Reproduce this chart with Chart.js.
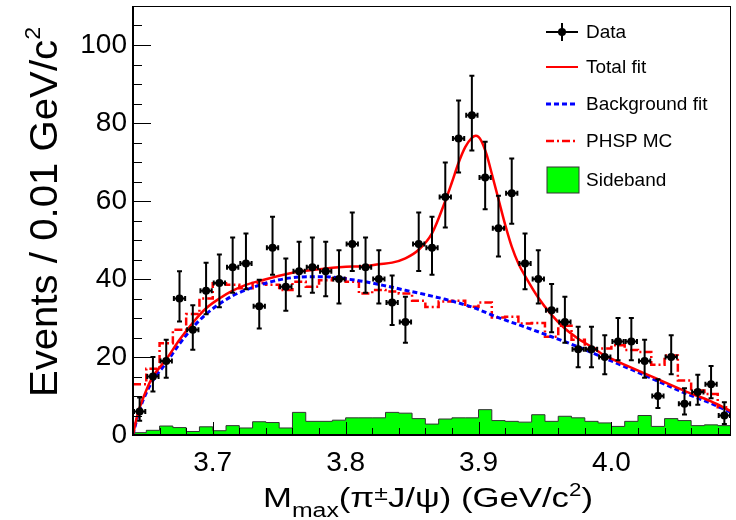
<!DOCTYPE html>
<html>
<head>
<meta charset="utf-8">
<script src="https://cdn.jsdelivr.net/npm/chart.js@4.4.1/dist/chart.umd.min.js"></script>
<style>
html,body{margin:0;padding:0;background:#fff;}
#wrap{position:relative;width:736px;height:520px;overflow:hidden;font-family:'Liberation Sans',Arial,Helvetica,sans-serif;color:#000;}
#c{position:absolute;left:0;top:0;}
.lg{position:absolute;left:586px;font-size:19px;line-height:20px;white-space:nowrap;}
#xt{position:absolute;left:263px;top:484px;font-size:28px;line-height:28px;white-space:nowrap;transform-origin:0 50%;}
#yt{position:absolute;left:44px;top:212px;font-size:38px;line-height:38px;white-space:nowrap;transform:translate(-50%,-50%) rotate(-90deg);}
.sub{font-size:20px;position:relative;top:10px;line-height:0;}
.supx{font-size:20px;position:relative;top:-7px;line-height:0;}
.sup2{font-size:18px;position:relative;top:-11px;line-height:0;}
.supy{font-size:22px;position:relative;top:-17px;line-height:0;}
#sym{position:absolute;left:0;top:0;pointer-events:none;}
</style>
</head>
<body>
<div id="wrap">
<canvas id="c" width="736" height="520"></canvas>
<svg id="sym" width="736" height="520">
  <line x1="546" y1="32" x2="578" y2="32" stroke="#000" stroke-width="2"/>
  <line x1="562" y1="23" x2="562" y2="41" stroke="#000" stroke-width="2"/>
  <circle cx="562" cy="32" r="4" fill="#000"/>
  <line x1="546" y1="67" x2="578" y2="67" stroke="#ff0000" stroke-width="2"/>
  <line x1="546" y1="104" x2="578" y2="104" stroke="#0000ff" stroke-width="3" stroke-dasharray="5,3"/>
  <line x1="546" y1="141" x2="578" y2="141" stroke="#ff0000" stroke-width="2.5" stroke-dasharray="8,3,2,3"/>
  <rect x="547" y="167" width="32" height="26" fill="#00ff00" stroke="#333" stroke-width="1"/>
</svg>
<div class="lg" style="top:22px">Data</div>
<div class="lg" style="top:57px">Total fit</div>
<div class="lg" style="top:94px">Background fit</div>
<div class="lg" style="top:131px">PHSP MC</div>
<div class="lg" style="top:170px">Sideband</div>
<div id="xt">M<span class="sub">max</span>(π<span class="supx">±</span>J/ψ) (GeV/c<span class="sup2">2</span>)</div>
<div id="yt">Events / 0.01 GeV/c<span class="supy">2</span></div>
</div>
<script>
// ---- binning / axes ----
const massMin = 3.64;
const massMax = 4.09;
const binWidth = 0.01;
const xTickVals = [3.7, 3.8, 3.9, 4.0];
const yTickVals = [0, 20, 40, 60, 80, 100];
const yMax = 110;

// ---- data: events per bin (45 bins, 3.64 - 4.09) ----
const counts = [6,15,19,35,27,37,39,43,44,33,48,38,42,43,42,40,49,43,40,34,29,49,48,61,76,82,66,53,62,44,40,32,29,22,22,20,24,24,19,10,20,8,11,13,5];

// ---- sideband histogram ----
const sideband = [0.6,1.2,2.3,1.9,0.9,2.1,1.1,2.4,1.8,3.4,3.2,1.8,5.8,3.5,3.5,3.8,4.4,4.4,4.4,5.8,5.6,4.2,2.8,4.1,4.4,4.4,6.5,3.7,3.5,3.3,5.2,3.5,4.8,4.4,3.5,3.1,2.2,3.5,5.0,2.2,4.2,3.7,2.4,2.6,2.4];

// ---- PHSP MC histogram ----
const phsp = [13,17,23.5,27,31,35,38.9,38.5,37.6,39,38.5,37.2,39.3,38,39.7,40.2,39.3,36.3,37.2,36.8,36.3,34.4,32.8,34.2,34.4,32.9,34,30.1,30.3,28.6,28.7,25.2,28,24.4,22.2,22.2,23,21.8,21.3,18,20.4,14,11.4,10.5,7.1];

// ---- total fit curve ----
const totalMass = [3.640,3.6425,3.645,3.650,3.655,3.665,3.675,3.685,3.695,3.705,3.715,3.725,3.735,3.745,3.755,3.765,3.775,3.785,3.795,3.805,3.815,3.825,3.835,3.845,3.855,3.865,3.875,3.880,3.885,3.890,3.895,3.898,3.902,3.906,3.910,3.915,3.920,3.925,3.930,3.935,3.945,3.955,3.965,3.975,3.985,3.995,4.015,4.035,4.055,4.075,4.090];
const totalFit  = [0,4,7,11.5,15,19.4,24.4,28.8,32.5,35,37,38.5,39.5,40.4,41.2,41.9,42.3,42.7,43,43.2,43.3,43.8,44.2,45.3,47.5,51.7,60,64.8,69.8,73.8,76.2,76.7,75.5,72,67,60.5,54,48.3,44,40.8,35.2,30.8,27.3,24.7,22.6,20.4,17.3,14.3,11.3,8.6,6.1];

// ---- background fit curve ----
const bkgMass = [3.640,3.6425,3.645,3.650,3.655,3.665,3.675,3.685,3.695,3.705,3.715,3.725,3.735,3.745,3.755,3.765,3.775,3.785,3.795,3.805,3.815,3.825,3.835,3.845,3.855,3.865,3.875,3.895,3.915,3.935,3.955,3.975,3.995,4.015,4.035,4.055,4.075,4.090];
const bkgFit  = [0,3.5,6.5,10.8,14,18.5,23.4,27.6,31,33.6,35.7,37.2,38.4,39.4,40.1,40.5,40.6,40.6,40.3,39.8,39.3,38.6,37.9,37.1,36.4,35.6,34.8,32.8,30.1,27.7,25.2,22.6,19.7,16.8,13.8,10.8,8.1,5.8];

// ---- helpers building library data ----
const binCenter = i => massMin + (i + 0.5) * binWidth;
const binLow = i => massMin + i * binWidth;
function histPoints(vals){
  const pts = vals.map((v,i)=>({x: binLow(i), y: v}));
  pts.push({x: binLow(vals.length), y: vals[vals.length-1]});
  return pts;
}
const curve = (xs, ys) => xs.map((x,i)=>({x, y: ys[i]}));
// Poisson (Gehrels) errors
const errUp = n => Math.sqrt(n + 0.75) + 1;
const errLo = n => n - n * Math.pow(1 - 1/(9*n) - 1/(3*Math.sqrt(n)), 3);

const FONT = "'Liberation Sans', Arial, Helvetica, sans-serif";

const errPlugin = {
  id: 'errbars',
  afterDatasetsDraw(chart){
    const {ctx, scales:{x, y}, chartArea:a} = chart;
    ctx.save();
    ctx.beginPath(); ctx.rect(a.left, a.top, a.right-a.left, a.bottom-a.top); ctx.clip();
    ctx.strokeStyle = '#000'; ctx.lineWidth = 2;
    counts.forEach((n,i)=>{
      const xc = binCenter(i);
      const px = x.getPixelForValue(xc);
      const py = y.getPixelForValue(n);
      const pu = y.getPixelForValue(n + errUp(n));
      const pl = y.getPixelForValue(n - errLo(n));
      const xl = x.getPixelForValue(xc - binWidth/2) + 1;
      const xr = x.getPixelForValue(xc + binWidth/2) - 1;
      ctx.beginPath();
      ctx.moveTo(px, pu); ctx.lineTo(px, pl);
      ctx.moveTo(px-2.5, pu); ctx.lineTo(px+2.5, pu);
      ctx.moveTo(px-2.5, pl); ctx.lineTo(px+2.5, pl);
      ctx.moveTo(xl, py); ctx.lineTo(xr, py);
      ctx.moveTo(xl, py-2.5); ctx.lineTo(xl, py+2.5);
      ctx.moveTo(xr, py-2.5); ctx.lineTo(xr, py+2.5);
      ctx.stroke();
    });
    ctx.restore();
  }
};

const framePlugin = {
  id: 'frame',
  afterDraw(chart){
    const {ctx, scales:{x, y}, chartArea:a} = chart;
    ctx.save();
    ctx.strokeStyle = '#000';
    ctx.lineWidth = 1;
    ctx.beginPath();
    for (let v = 0; v <= yMax + 1e-9; v += 5){
      const py = Math.round(y.getPixelForValue(v)) + 0.5;
      const len = (v % 20 === 0) ? 18 : 9;
      ctx.moveTo(a.left, py); ctx.lineTo(a.left + len, py);
    }
    for (let k = 0; ; k++){
      const v = 3.66 + 0.02*k;
      if (v > massMax - 1e-9) break;
      const px = Math.round(x.getPixelForValue(v)) + 0.5;
      const major = Math.abs(v*10 - Math.round(v*10)) < 1e-6;
      const len = major ? 13 : 7;
      ctx.moveTo(px, a.bottom); ctx.lineTo(px, a.bottom - len);
    }
    ctx.stroke();
    // frame
    ctx.beginPath();
    ctx.moveTo(a.left, a.top + 0.5); ctx.lineTo(a.right, a.top + 0.5);
    ctx.moveTo(a.right - 0.5, a.top); ctx.lineTo(a.right - 0.5, a.bottom);
    ctx.stroke();
    ctx.lineWidth = 2;
    ctx.beginPath();
    ctx.moveTo(a.left, a.top); ctx.lineTo(a.left, a.bottom + 1);
    ctx.moveTo(a.left - 1, a.bottom); ctx.lineTo(a.right, a.bottom);
    ctx.stroke();
    ctx.restore();
  }
};

new Chart(document.getElementById('c'), {
  type: 'line',
  data: {
    datasets: [
      { label: 'Data', type: 'scatter', data: counts.map((n,i)=>({x: binCenter(i), y: n})),
        pointRadius: 4, pointHoverRadius: 4, pointBackgroundColor: '#000', pointBorderWidth: 0, showLine: false, order: 0 },
      { label: 'Total fit', data: curve(totalMass, totalFit), borderColor: '#ff0000', borderWidth: 2.5,
        pointRadius: 0, cubicInterpolationMode: 'monotone', fill: false, order: 1 },
      { label: 'Background fit', data: curve(bkgMass, bkgFit), borderColor: '#0000ff', borderWidth: 3, borderDash: [5,3],
        pointRadius: 0, cubicInterpolationMode: 'monotone', fill: false, order: 2 },
      { label: 'PHSP MC', data: histPoints(phsp), borderColor: '#ff0000', borderWidth: 2.5, borderDash: [8,3,2,3],
        pointRadius: 0, stepped: 'before', fill: false, order: 3 },
      { label: 'Sideband', data: histPoints(sideband), borderColor: '#333333', borderWidth: 1, backgroundColor: '#00ff00',
        pointRadius: 0, stepped: 'before', fill: 'origin', order: 4 }
    ]
  },
  options: {
    responsive: false,
    animation: false,
    events: [],
    layout: { padding: { top: 6, right: 5, left: 0, bottom: 0 } },
    plugins: { legend: { display: false }, tooltip: { enabled: false } },
    scales: {
      x: {
        type: 'linear', min: massMin, max: massMax,
        grid: { display: false, drawTicks: false }, border: { display: false },
        afterBuildTicks: s => { s.ticks = xTickVals.map(v=>({value: v})); },
        afterFit: s => { s.height = 85; s.paddingLeft = 0; s.paddingRight = 0; },
        ticks: { autoSkip: false, maxRotation: 0, padding: 11, color: '#000',
          font: { family: FONT, size: 28 }, callback: v => Number(v).toFixed(1) }
      },
      y: {
        type: 'linear', min: 0, max: yMax,
        grid: { display: false, drawTicks: false }, border: { display: false },
        afterBuildTicks: s => { s.ticks = yTickVals.map(v=>({value: v})); },
        afterFit: s => { s.width = 133; s.paddingTop = 0; s.paddingBottom = 0; },
        ticks: { padding: 6, color: '#000', font: { family: FONT, size: 28 }, callback: v => String(v) }
      }
    }
  },
  plugins: [errPlugin, framePlugin]
});

// fit axis titles to measured extents
(function(){
  const xt = document.getElementById('xt');
  const w = xt.getBoundingClientRect().width;
  xt.style.transform = 'scaleX(' + (330 / w).toFixed(3) + ')';
  const yt = document.getElementById('yt');
  const L = yt.offsetWidth;
  yt.style.transform = 'translate(-50%,-50%) rotate(-90deg) scaleX(' + (370 / L).toFixed(3) + ')';
})();
</script>
</body>
</html>
